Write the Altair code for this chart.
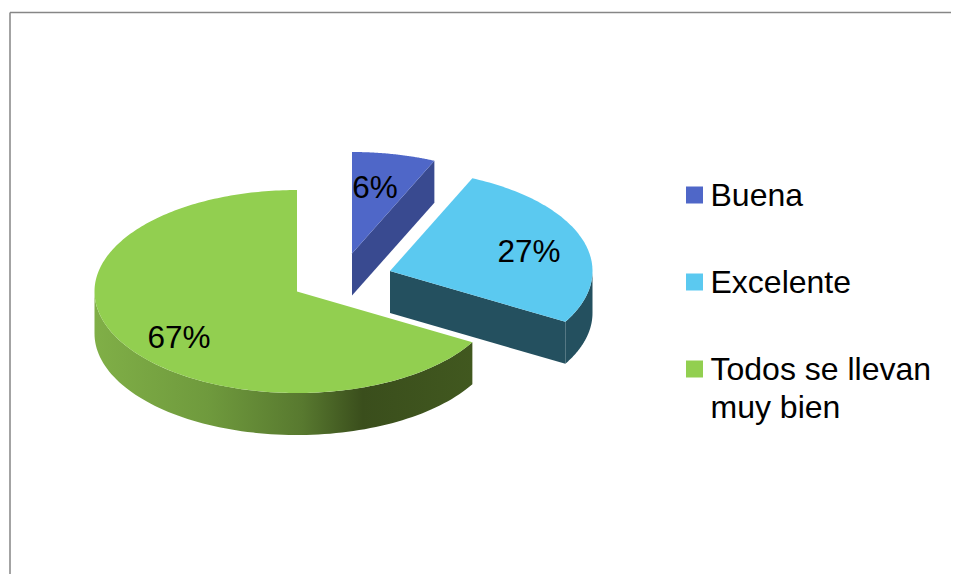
import numpy as np
import pandas as pd
import altair as alt

categories = ["Buena", "Excelente", "Todos se llevan muy bien"]
shares = [1, 4, 10]
pct_labels = ["6%", "27%", "67%"]
legend_lines = [["Buena"], ["Excelente"], ["Todos se llevan", "muy bien"]]

W, H = 943, 566
OFF = 8
RX, RY, DEPTH = 202.5, 101.5, 42
apex = {"Buena": (352, 253.5), "Excelente": (390, 271), "Todos se llevan muy bien": (297, 291.5)}
top_col = {"Buena": "#4F67C8", "Excelente": "#5BC9F0", "Todos se llevan muy bien": "#92CF50"}
wall_col = {"Buena": "#394A90", "Excelente": "#24505F"}
green_wall = alt.Gradient(
    gradient="linear", x1=0, x2=1, y1=0, y2=0,
    stops=[
        alt.GradientStop(offset=0.0, color="#80AF47"),
        alt.GradientStop(offset=0.3, color="#6F9A3D"),
        alt.GradientStop(offset=0.55, color="#58792F"),
        alt.GradientStop(offset=0.71, color="#3A4E1C"),
        alt.GradientStop(offset=1.0, color="#41581F"),
    ],
)

xs = alt.X("x:Q", scale=alt.Scale(domain=[OFF, OFF + W]), axis=None)
ys = alt.Y("y:Q", scale=alt.Scale(domain=[OFF + H, OFF]), axis=None)


def rim(cat, a0, a1, dy=0.0, n=90):
    cx, cy = apex[cat]
    t = np.radians(np.linspace(a0, a1, n))
    return list(cx + RX * np.sin(t)), list(cy - RY * np.cos(t) + dy)


def poly(px, py, fill):
    df = pd.DataFrame({"x": px, "y": py, "i": range(len(px))})
    return alt.Chart(df).mark_line(fill=fill, strokeWidth=0, clip=False, interpolate="linear").encode(
        x=xs, y=ys, order=alt.Order("i:Q")
    )


total = sum(shares)
edges = np.cumsum([0] + shares) / total * 360
span = {c: (edges[i], edges[i + 1]) for i, c in enumerate(categories)}
layers = []

# green slice
c = categories[2]
a0, a1 = span[c]
x1, y1 = rim(c, a0, 270)
x2, y2 = rim(c, 270, a0, DEPTH)
layers.append(poly(x1 + x2, y1 + y2, green_wall))
x1, y1 = rim(c, a0, a1, n=240)
layers.append(poly([apex[c][0]] + x1, [apex[c][1]] + y1, top_col[c]))

# cyan slice: cut face at its end angle plus visible rim
c = categories[1]
a0, a1 = span[c]
x1, y1 = rim(c, 90, a1)
x2, y2 = rim(c, a1, 90, DEPTH)
layers.append(poly(x1 + x2, y1 + y2, wall_col[c]))
cx, cy = apex[c]
ex, ey = rim(c, a1, a1, n=1)
layers.append(poly([cx, ex[0], ex[0], cx], [cy, ey[0], ey[0] + DEPTH, cy + DEPTH], wall_col[c]))
x1, y1 = rim(c, a0, a1)
layers.append(poly([cx] + x1, [cy] + y1, top_col[c]))

# blue slice: cut face at its end angle
c = categories[0]
a0, a1 = span[c]
cx, cy = apex[c]
ex, ey = rim(c, a1, a1, n=1)
layers.append(poly([cx, ex[0], ex[0], cx], [cy, ey[0], ey[0] + DEPTH, cy + DEPTH], wall_col[c]))
x1, y1 = rim(c, a0, a1)
layers.append(poly([cx] + x1, [cy] + y1, top_col[c]))

FONT = "Liberation Sans"

# percentage labels
lab = pd.DataFrame({"x": [375, 529, 179], "y": [198, 262, 348], "t": pct_labels})
layers.append(alt.Chart(lab).mark_text(font=FONT, fontSize=31.5, color="#000000", align="center", baseline="alphabetic", clip=False)
              .encode(x=xs, y=ys, text="t:N"))

# legend swatches
sw = pd.DataFrame({"x": [694.5] * 3, "y": [195, 282, 369], "c": categories})
layers.append(alt.Chart(sw).mark_square(size=289, opacity=1, strokeWidth=0).encode(
    x=xs, y=ys,
    color=alt.Color("c:N", scale=alt.Scale(domain=categories, range=[top_col[k] for k in categories]), legend=None),
))

# legend text
ty = [206, 293, 380, 418]
flat = [s for group in legend_lines for s in group]
leg = pd.DataFrame({"x": [710.5] * len(flat), "y": ty, "t": flat})
layers.append(alt.Chart(leg).mark_text(font=FONT, fontSize=32, color="#000000", align="left", baseline="alphabetic")
              .encode(x=xs, y=ys, text="t:N"))

# frame
layers.append(alt.Chart(pd.DataFrame({"x": [10], "y": [12.5], "y2": [OFF + H]})).mark_rule(color="#8C8C8C", strokeWidth=1.6)
              .encode(x=xs, y=ys, y2="y2:Q"))
layers.append(alt.Chart(pd.DataFrame({"x": [10], "x2": [OFF + W], "y": [12.5]})).mark_rule(color="#868686", strokeWidth=1.4)
              .encode(x=xs, x2="x2:Q", y=ys))

chart = alt.layer(*layers).properties(
    width=W, height=H, padding=0, background="#FFFFFF",
    autosize=alt.AutoSizeParams(type="none"),
).configure_view(stroke=None)

chart.save("out.html", embed_options={"renderer": "svg", "actions": False})
